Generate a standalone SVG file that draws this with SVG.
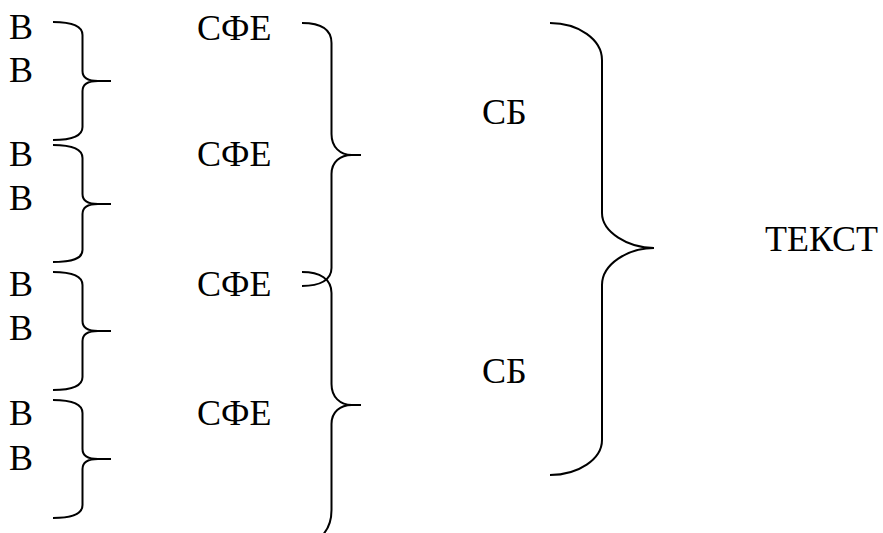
<svg xmlns="http://www.w3.org/2000/svg" width="883" height="533" viewBox="0 0 883 533">
<style>
text{font-family:"Liberation Serif","Times New Roman",serif;font-size:36px;fill:#000}
.br{fill:none;stroke:#000;stroke-width:2;stroke-linecap:butt;stroke-linejoin:round}
</style>
<rect width="883" height="533" fill="#fff"/>
<g id="words">
<text x="9" y="39">В</text><text x="9" y="82">В</text>
<text x="9" y="166">В</text><text x="9" y="210">В</text>
<text x="9" y="296">В</text><text x="9" y="340">В</text>
<text x="9" y="425">В</text><text x="9" y="470">В</text>
</g>
<g id="sfe">
<text x="197" y="40">СФЕ</text>
<text x="197" y="166">СФЕ</text>
<text x="197" y="296">СФЕ</text>
<text x="197" y="425">СФЕ</text>
</g>
<g id="sb">
<text x="482" y="124">СБ</text>
<text x="482" y="383">СБ</text>
</g>
<g id="text">
<text x="765" y="251">ТЕКСТ</text>
</g>
<g id="connectors">
<path class="br" d="M53,22 C72,22 82.5,26 82.5,35 L82.5,71 C82.5,78 88,81 98,81 L111,81 M98,81 C88,81 82.5,84 82.5,91 L82.5,127 C82.5,136 72,140 53,140"/>
<path class="br" d="M53,145 C72,145 82.5,149 82.5,158 L82.5,194 C82.5,201 88,204 98,204 L111,204 M98,204 C88,204 82.5,207 82.5,214 L82.5,250 C82.5,259 72,262 53,262"/>
<path class="br" d="M53,272 C72,272 82.5,276 82.5,285 L82.5,321 C82.5,328 88,331 98,331 L111,331 M98,331 C88,331 82.5,334 82.5,341 L82.5,377 C82.5,386 72,390 53,390"/>
<path class="br" d="M53,400 C72,400 82.5,404 82.5,413 L82.5,449 C82.5,456 88,459 98,459 L111,459 M98,459 C88,459 82.5,462 82.5,469 L82.5,505 C82.5,514 72,518 53,518"/>
<path class="br" d="M302,23 C320,23 331.5,29 331.5,43 L331.5,134 C331.5,147 340,155 352,155 L361,155 M352,155 C340,155 331.5,162 331.5,174 L331.5,268 C331.5,280 320,286 302,286"/>
<path class="br" d="M302,272 C320,272 331.5,279 331.5,293 L331.5,384 C331.5,397 340,405 352,405 L361,405 M352,405 C340,405 331.5,412 331.5,424 L331.5,510 C331.5,528 322,542 302,545"/>
<path class="br" d="M550,23 C578.6,23 602,39.6 602,60 L602,213 C602,232 628,248 654,248 M654,248 C628,248 602,264 602,285 L602,440 C602,459 578.6,475 550,475"/>
</g>
</svg>
